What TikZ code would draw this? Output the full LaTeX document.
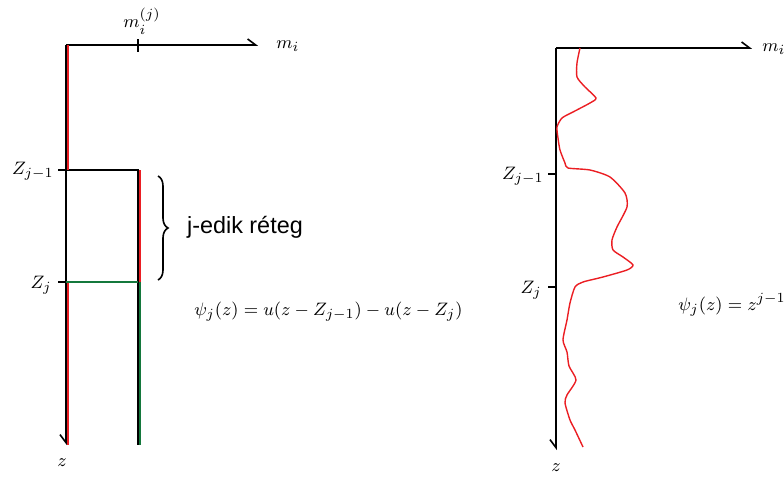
\documentclass[tikz,border=0pt]{standalone}
\usepackage{fontspec}
\newfontfamily\arialfont{Liberation Sans}
\usetikzlibrary{arrows.meta,decorations.pathreplacing}
\definecolor{vonalpiros}{RGB}{235,30,35}
\definecolor{vonalzold}{RGB}{20,120,60}
\begin{document}
\begin{tikzpicture}[x=0.5pt,y=-0.5pt,
		tengely/.style={line width=0.8pt},
		vizszintes/.style={tengely,-{Straight Barb[left,length=4pt,width=6pt]}},
		fuggoleges/.style={tengely,-{Straight Barb[right,length=4pt,width=6pt]}},
		vonal/.style={line width=0.8pt},
		piros/.style={vonalpiros,line width=1pt},
		zold/.style={vonalzold,line width=1pt},
		cimke/.style={font=\fontsize{9.5}{11}\selectfont,inner sep=1pt}]
	\useasboundingbox (0,0) rectangle (784,477);

	% Bal oldali abra: tengelyek
	\coordinate (O) at (66,45);
	\coordinate (Mx) at (258,45);
	\coordinate (Mz) at (66,445);
	\draw[vizszintes] (O) -- (Mx);
	\draw[fuggoleges] (O) -- (Mz);
	\node[cimke,right] (mi) at (274,46) {$m_i$};
	\coordinate (T) at (138,45);
	\draw[vonal] (138,39) -- (138,52);
	\node[cimke] (mij) at (142,21) {$m_i^{(j)}$};
	\node[cimke] (z) at (62,463) {$z$};

	% Retegek hatarai
	\coordinate (A) at (58,170);
	\coordinate (A1) at (138,170);
	\coordinate (B) at (58,282);
	\coordinate (B0) at (66,282);
	\coordinate (B1) at (138,282);
	\coordinate (C1) at (138,445);
	\draw[vonal] (A) -- (A1) -- (C1);
	\draw[vonal] (B) -- (B0);
	\node[cimke,left] (Zj1) at (56,171) {$Z_{j-1}$};
	\node[cimke,left] (Zj) at (54,285) {$Z_j$};

	% A bazisfuggveny
	\draw[piros] (67.5,45) -- (67.5,170);
	\draw[piros] (67.5,282) -- (67.5,445);
	\draw[piros] (139.5,170) -- (139.5,282);
	\draw[zold] (B0) -- (B1);
	\draw[zold] (139.5,282) -- (139.5,445);

	% Kapcsos zarojel
	\draw[vonal,decorate,decoration={brace,amplitude=5pt}] (158,176) -- (158,280);
	\node[right,font=\arialfont\fontsize{11.7}{14}\selectfont] (reteg) at (180,227) {j-edik réteg};
	\node[cimke,right] (kepl1) at (192,312) {$\psi_j(z)=u(z-Z_{j-1})-u(z-Z_j)$};

	% Jobb oldali abra
	\coordinate (P) at (556,48);
	\coordinate (Px) at (752,48);
	\coordinate (Pz) at (556,450);
	\draw[vizszintes] (P) -- (Px);
	\draw[fuggoleges] (P) -- (Pz);
	\node[cimke,right] (mi2) at (760,49) {$m_i$};
	\draw[vonal] (548,174) -- (556,174);
	\draw[vonal] (548,287) -- (556,287);
	\node[cimke,left] (Zj1b) at (546,176) {$Z_{j-1}$};
	\node[cimke,left] (Zjb) at (544,290) {$Z_j$};
	\node[cimke] (z2) at (556,468) {$z$};
	\node[cimke,right] (kepl2) at (676,305) {$\psi_j(z)=z^{j-1}$};

	% Altalanos fuggveny
	\draw[vonalpiros,line width=0.7pt] plot[smooth,tension=0.4] coordinates {
		(580,48) (577,63) (577,77) (585,87) (596,98) (590,103) (573,112)
		(562,118) (557,127) (558,138) (560,150) (565,163) (568,168) (590,170)
		(610,177) (625,193) (627,207) (617,227) (612,240) (613,250) (623,257)
		(633,265) (627,270) (603,277) (583,282) (575,287) (570,303) (567,320)
		(563,340) (567,352) (569,366) (576,380) (567,395) (565,403) (570,420)
		(575,430) (583,447)};
\end{tikzpicture}
\end{document}
